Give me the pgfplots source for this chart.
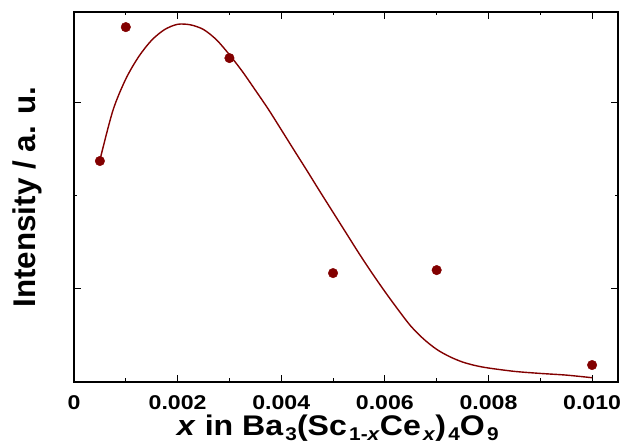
\documentclass[border=0pt]{standalone}
\usepackage{fontspec}
\setmainfont{Liberation Sans}
\newfontfamily\wideA[FakeStretch=1.13]{Liberation Sans}
\newfontfamily\wideB[FakeStretch=1.16]{Liberation Sans}
\usepackage{pgfplots}
\pgfplotsset{compat=1.18}
\definecolor{dred}{RGB}{130,0,0}
\newcommand{\sub}[1]{\hspace{2.2bp}\raisebox{-5bp}{\fontsize{18.5}{18.5}\selectfont #1}}
\begin{document}
\begin{tikzpicture}
\begin{axis}[
  scale only axis, width=544bp, height=370bp,
  xmin=0, xmax=0.0105, ymin=0.5, ymax=2.484,
  scaled x ticks=false,
  axis line style={line width=1.6bp},
  tick align=inside,
  xtick={0,0.002,0.004,0.006,0.008,0.010},
  xticklabels={0,0.002,0.004,0.006,0.008,0.010},
  minor xtick={0.001,0.003,0.005,0.007,0.009},
  ytick={1,2}, yticklabels={},
  minor ytick={1.5},
  major tick length=7bp, minor tick length=3.5bp,
  every tick/.style={line width=1bp, black},
  /pgf/number format/assume math mode=true,
  xticklabel style={font=\wideB\fontsize{20}{20}\selectfont\bfseries, inner sep=0pt, anchor=north, yshift=-13bp},
  xlabel={\textit{x} in Ba\sub{3}(Sc\sub{1-\textit{x}}Ce\sub{\textit{x}})\sub{4}O\sub{9}},
  xlabel style={font=\wideA\fontsize{28.5}{28.5}\selectfont\bfseries, at={(axis description cs:0.485,-0.145)}, anchor=base, inner sep=0pt},
  ylabel={Intensity / a. u.},
  ylabel style={font=\fontsize{31.5}{31.5}\selectfont\bfseries, at={(axis description cs:-0.0699,0.5)}, anchor=base, inner sep=0pt},
]
\coordinate (sw) at (rel axis cs:0,0);
\coordinate (ne) at (rel axis cs:1,1);
\addplot[dred, line width=1.4bp, smooth, no markers] coordinates {
(0.0005,1.690) (0.00075,1.955) (0.0010,2.125) (0.00125,2.245) (0.0015,2.333)
(0.00175,2.390) (0.0020,2.418) (0.00225,2.415) (0.0025,2.390) (0.00275,2.335)
(0.0030,2.255) (0.00325,2.165) (0.0035,2.065) (0.00375,1.963) (0.0040,1.853)
(0.00425,1.742) (0.0045,1.632) (0.00475,1.520) (0.0050,1.410) (0.00525,1.300)
(0.0055,1.190) (0.00575,1.085) (0.0060,0.985) (0.00625,0.890) (0.0065,0.800)
(0.00675,0.730) (0.0070,0.675) (0.00725,0.636) (0.0075,0.607) (0.00775,0.588)
(0.0080,0.575) (0.0085,0.557) (0.0090,0.546) (0.0095,0.537) (0.0100,0.523)
};
\addplot[only marks, mark=*, mark size=4.8pt, mark options={fill=dred, draw=dred}] coordinates {
(0.0005,1.685) (0.001,2.403) (0.003,2.237) (0.005,1.084) (0.007,1.100) (0.010,0.591)
};
\end{axis}
\pgfresetboundingbox
\path ([xshift=-74bp,yshift=-62bp]sw) rectangle ([xshift=5bp,yshift=12bp]ne);
\end{tikzpicture}
\end{document}
